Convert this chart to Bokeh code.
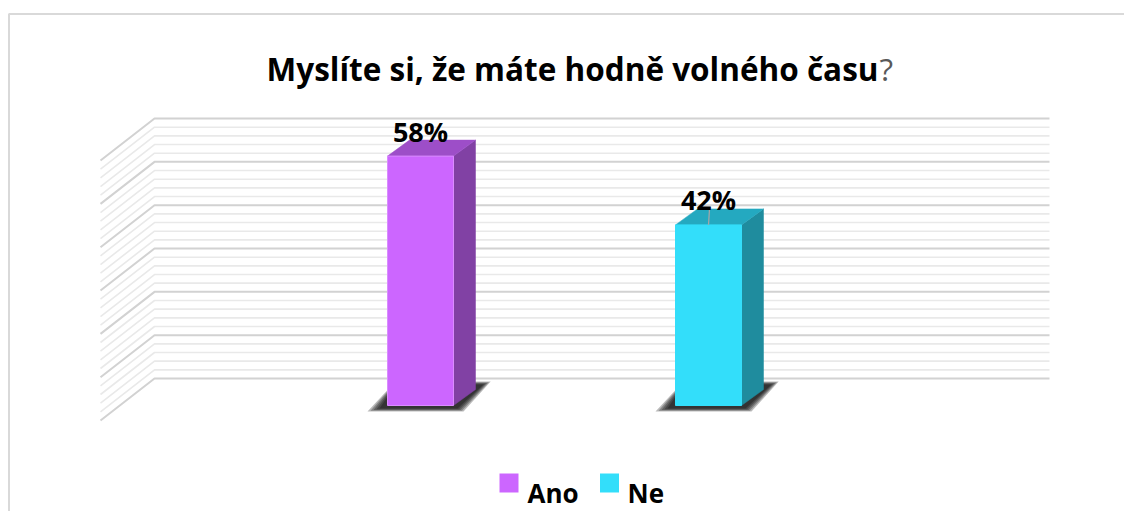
from bokeh.plotting import figure
from bokeh.models import Range1d
from bokeh.core.properties import value
from bokeh.embed import file_html
from bokeh.resources import INLINE

# ---------------- data ----------------
title_main = "Myslíte si, že máte hodně volného času"
title_mark = "?"
categories = ["Ano", "Ne"]
percentages = [58, 42]
labels = ["58%", "42%"]
leader_line = [False, True]
front_colors = ["#CC66FF", "#33DEFA"]
edge_colors = ["#DA8CFF", "#33DEFA"]
top_colors = ["#9D4EC8", "#24A9C0"]
side_colors = ["#8141A4", "#1F8C9E"]
wall_ticks = list(range(0, 61, 2))   # wall gridlines every 2 %, major every 10 %

# ---------------- layout (screen pixels) ----------------
W, H = 1124, 511
X0, XS = 420.0, 288.0     # centre of first category, px per category
Y0, YS = 405.0, 4.3       # px of 0 %, px per percentage point


def dx(px):
    return px / XS


def dy(px):
    return px / YS


def X(sx):
    return (sx - X0) / XS


def Y(sy):
    return (Y0 - sy) / YS


p = figure(width=W, height=H,
           x_range=Range1d(X(0), X(W)), y_range=Range1d(Y(H), Y(0)),
           output_backend="svg", toolbar_location=None,
           x_axis_type=None, y_axis_type=None, min_border=0,
           outline_line_color=None, background_fill_color="white",
           border_fill_color="white")
p.grid.visible = False

# chart border
p.line([X(8.5), X(8.5), X(1140)], [Y(530), Y(13.5), Y(13.5)],
       line_color="#D9D9D9", line_width=2)

# ---------------- back wall + side wall gridlines ----------------
wall_left, wall_right, side_left = X(154), X(1049), X(100)
wall_off = dy(27)
wall_scale = 4.333 / YS
side_drop = dy(42)
minor_xs, minor_ys, major_xs, major_ys = [], [], [], []
for t in wall_ticks:
    yb = wall_off + t * wall_scale
    xs = [side_left, wall_left, wall_right]
    ys = [yb - side_drop, yb, yb]
    if t % 10 == 0:
        major_xs.append(xs)
        major_ys.append(ys)
    else:
        minor_xs.append(xs)
        minor_ys.append(ys)
p.multi_line(minor_xs, minor_ys, line_color="#E9E9E9", line_width=1.6)
p.multi_line(major_xs, major_ys, line_color="#D2D2D2", line_width=2)

# ---------------- bars ----------------
half = dx(33)
ddx, ddy = dx(22), dy(16)
for i, v in enumerate(percentages):
    xl, xr = i - half, i + half
    # soft shadow on the floor
    for e in (12, 9, 6, 3, 0):
        yb_, yt_ = -dy(3 + e / 4), dy(21 + e / 4)
        sx = [xl + dx(-8 - e), xr + dx(4 + e * 0.5), xr + dx(30 + e * 0.6), xl + dx(8)]
        sy = [yb_, yb_, yt_, yt_]
        p.patch(sx, sy, fill_color="black", fill_alpha=0.27, line_color=None)
    # side face
    p.patch([xr, xr + ddx, xr + ddx, xr], [0, ddy, v + ddy, v],
            fill_color=side_colors[i], line_color=side_colors[i], line_width=0.5)
    # top face
    p.patch([xl, xr, xr + ddx, xl + ddx], [v, v, v + ddy, v + ddy],
            fill_color=top_colors[i], line_color=top_colors[i], line_width=0.5)
    # front face
    p.quad(left=[xl], right=[xr], bottom=[0], top=[v],
           fill_color=front_colors[i], line_color=edge_colors[i], line_width=1)
    if leader_line[i]:
        p.line([i + dx(1), i], [v + ddy, v], line_color="#A6A6A6", line_width=1.2)

# data labels
p.text(x=list(range(len(categories))), y=[v + dy(25) for v in percentages],
       text=labels, text_align="center", text_baseline="alphabetic",
       text_font=value("Open Sans"), text_font_style="bold",
       text_font_size="27px", text_color="black")

# ---------------- title ----------------
p.text(x=[X(878)], y=[Y(68)], text=[title_main], text_align="right",
       text_baseline="alphabetic", text_font=value("Open Sans"),
       text_font_style="bold", text_font_size="31.5px", text_color="black")
p.text(x=[X(879)], y=[Y(68)], text=[title_mark], text_align="left",
       text_baseline="alphabetic", text_font=value("Open Sans"),
       text_font_size="31.5px", text_color="#595959")

# ---------------- legend ----------------
leg_sq_x = [X(508.5), X(609)]
leg_tx_x = [X(527), X(627)]
p.rect(x=leg_sq_x, y=[Y(482.5)] * 2, width=dx(19), height=dy(19),
       fill_color=front_colors, line_color=None)
p.text(x=leg_tx_x, y=[Y(492)] * 2, text=categories, text_align="left",
       text_baseline="alphabetic", text_font=value("Open Sans"),
       text_font_style="bold", text_font_size="26px", text_color="black")

open("out.html", "w").write(file_html(p, INLINE))
